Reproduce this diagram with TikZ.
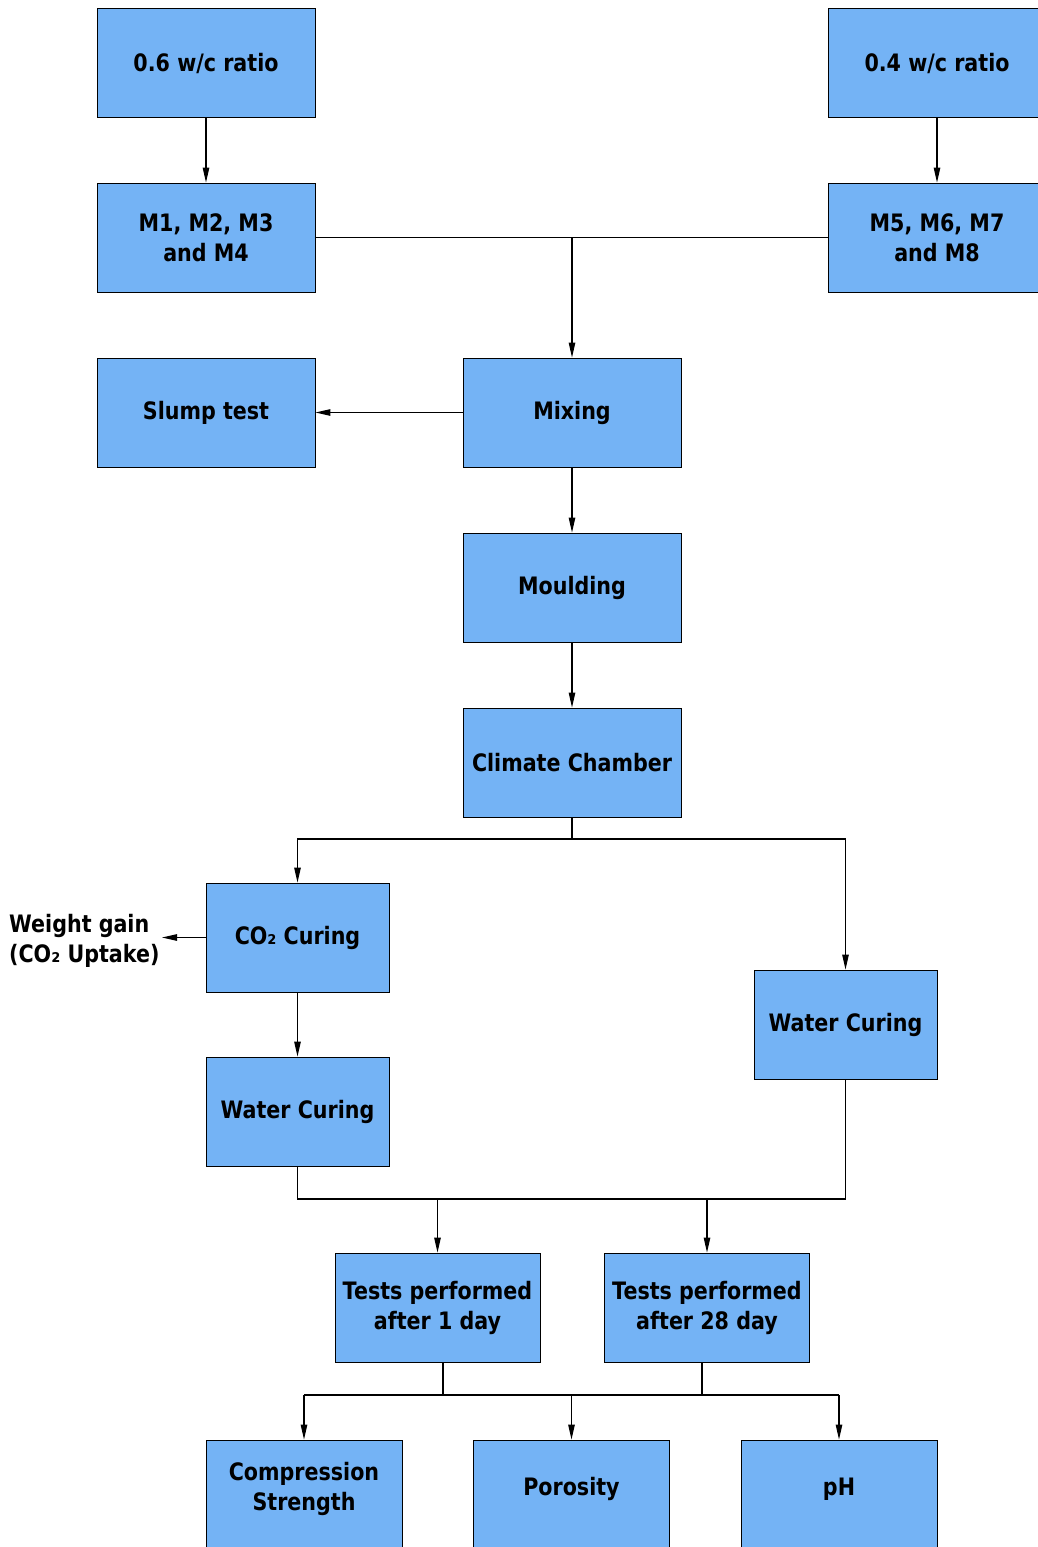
\documentclass[tikz,border=0pt]{standalone}
\usepackage{fontspec}
\setmainfont{DejaVu Sans}[FakeStretch=0.86]
\usepackage{tikz}
\usetikzlibrary{arrows.meta}
\definecolor{bleuboite}{RGB}{116,179,245}
\tikzset{
  etape/.style = {draw=black, fill=bleuboite, line width=0.9pt, align=center,
    inner sep=0pt, text centered, minimum width=218pt, minimum height=109pt,
    font=\fontsize{24}{30}\selectfont\bfseries},% boite normale
  etroite/.style = {etape, minimum width=183pt},% boites de cure
  essai/.style = {etape, minimum width=205pt},% boites des essais
  resultat/.style = {etape, minimum width=196pt, text depth=16pt},% boites du bas
  texte/.style = {align=left, inner sep=2pt,
    font=\fontsize{24}{30}\selectfont\bfseries}
}

\begin{document}
\begin{tikzpicture}[x=1pt,y=-1pt,line width=1.1pt,
  >={Stealth[length=15pt,width=6.5pt,inset=0pt]}]
\useasboundingbox (0,0) rectangle (1037,1547);
% melanges
\node [etape] (r06) at (206,63) {0.6 w/c ratio};
\node [etape] (r04) at (937,63) {0.4 w/c ratio};
\node [etape] (m14) at (206,237.5) {M1, M2, M3\\and M4};
\node [etape] (m58) at (937,237.5) {M5, M6, M7\\and M8};
% fabrication
\node [etape] (slump) at (206,412.5) {Slump test};
\node [etape] (mix) at (572,412.5) {Mixing};
\node [etape] (mould) at (572,587.5) {Moulding};
\node [etape] (clim) at (572,762.5) {Climate Chamber};
% cure
\node [etroite] (co2) at (297.5,937.5) {CO₂ Curing};
\node [texte, anchor=east] (gain) at (162,941) {Weight gain\\(CO₂ Uptake)};
\node [etroite] (eaug) at (297.5,1111.5) {Water Curing};
\node [etroite] (eaud) at (845.5,1024.5) {Water Curing};
% essais
\node [essai] (j1) at (437.5,1307.5) {Tests performed\\after 1 day};
\node [essai] (j28) at (707,1307.5) {Tests performed\\after 28 day};
\node [resultat] (comp) at (304,1494.5) {Compression\\Strength};
\node [resultat] (poro) at (571.5,1494.5) {Porosity};
\node [resultat] (ph) at (839,1494.5) {pH};

\coordinate (jonc) at (572,237.5);
\coordinate (sep) at (572,839);
\coordinate (bas) at (572,1199);
\coordinate (bas2) at (572,1395);

\draw[->] (r06) -- (m14);
\draw[->] (r04) -- (m58);
\draw (m14) -- (m58);
\draw[->] (jonc) -- (mix);
\draw[->] (mix) -- (slump);
\draw[->] (mix) -- (mould);
\draw[->] (mould) -- (clim);
\draw (clim.south) -- (sep);
\draw[->] (sep) -| (co2.north);
\draw[->] (sep) -| (eaud.north);
\draw[->] (co2.west) -- (co2.west -| gain.east);
\draw[->] (co2) -- (eaug);
\draw (eaug.south) |- (bas) -| (eaud.south);
\draw[->] (j1.north |- bas) -- (j1);
\draw[->] (j28.north |- bas) -- (j28);
\draw ([xshift=5.5pt]j1.south) -- ([xshift=5.5pt]j1.south |- bas2);
\draw ([xshift=-5pt]j28.south) -- ([xshift=-5pt]j28.south |- bas2);
\draw (comp.north |- bas2) -- (ph.north |- bas2);
\draw[->] (comp.north |- bas2) -- (comp);
\draw[->] (poro.north |- bas2) -- (poro);
\draw[->] (ph.north |- bas2) -- (ph);
\end{tikzpicture}
\end{document}
